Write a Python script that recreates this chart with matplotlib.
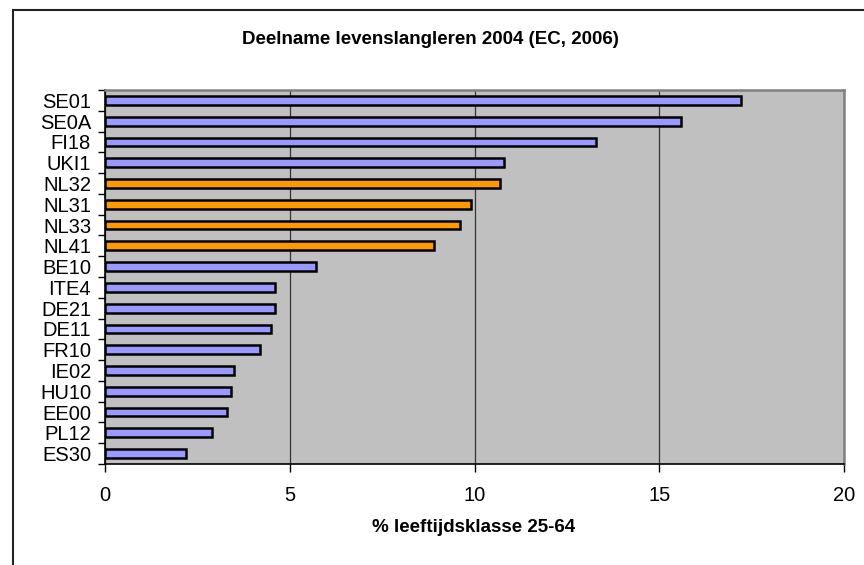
import matplotlib
matplotlib.use('Agg')
import matplotlib.pyplot as plt
import numpy as np
from matplotlib.lines import Line2D

plt.rcParams['font.family'] = ['Liberation Sans', 'DejaVu Sans']

regions = ['SE01', 'SE0A', 'FI18', 'UKI1', 'NL32', 'NL31', 'NL33', 'NL41', 'BE10',
           'ITE4', 'DE21', 'DE11', 'FR10', 'IE02', 'HU10', 'EE00', 'PL12', 'ES30']
participation = [17.2, 15.6, 13.3, 10.8, 10.7, 9.9, 9.6, 8.9, 5.7,
                 4.6, 4.6, 4.5, 4.2, 3.5, 3.4, 3.3, 2.9, 2.2]
dutch = ['NL32', 'NL31', 'NL33', 'NL41']

title = 'Deelname levenslangleren 2004 (EC, 2006)'
xlabel = '% leeftijdsklasse 25-64'
xticks = [0, 5, 10, 15, 20]

BLUE = '#9999FF'
ORANGE = '#FF9900'


def main():
    fig = plt.figure(figsize=(8.64, 5.65), dpi=100)
    ax = fig.add_axes([105 / 864, 1 - 464 / 565, (844 - 105) / 864, (464 - 90) / 565])
    ax.set_facecolor('#C0C0C0')

    ys = np.arange(len(regions))
    colors = [ORANGE if r in dutch else BLUE for r in regions]
    ax.barh(ys, participation, height=0.42, color=colors, edgecolor='black',
            linewidth=1.8, zorder=3)

    ax.set_ylim(len(regions) - 0.5, -0.5)
    ax.set_xlim(0, 20)

    ax.set_yticks(ys)
    ax.set_yticklabels(regions, fontsize=14.5)
    ax.set_yticks(np.arange(len(regions) + 1) - 0.5, minor=True)
    ax.tick_params(axis='y', which='major', length=0, pad=10)
    ax.tick_params(axis='y', which='minor', length=5, width=1, direction='out')

    ax.set_xticks(xticks)
    ax.set_xticklabels([str(t) for t in xticks], fontsize=14.5)
    ax.tick_params(axis='x', length=6, width=1, direction='out', pad=10)

    ax.grid(axis='x', color='#333333', linewidth=0.9, zorder=1)
    ax.set_axisbelow(True)

    for side in ['left', 'bottom']:
        ax.spines[side].set_color('black')
        ax.spines[side].set_linewidth(1.2)
    for side in ['top', 'right']:
        ax.spines[side].set_color('#808080')
        ax.spines[side].set_linewidth(1.8)

    fig.text(0.498, 1 - 40 / 565, title, ha='center', va='center',
             fontsize=13.5, fontweight='bold')
    fig.text(474 / 864, 1 - 527 / 565, xlabel, ha='center', va='center',
             fontsize=13.5, fontweight='bold')

    # outer chart frame (only left and top edges fall inside the image)
    fig.add_artist(Line2D([13 / 864, 13 / 864], [0, 1 - 10 / 565],
                          transform=fig.transFigure, color='#222222', lw=1.5))
    fig.add_artist(Line2D([13 / 864, 1], [1 - 10 / 565, 1 - 10 / 565],
                          transform=fig.transFigure, color='#222222', lw=1.5))

    fig.savefig('out.png', dpi=100)


if __name__ == '__main__':
    main()
